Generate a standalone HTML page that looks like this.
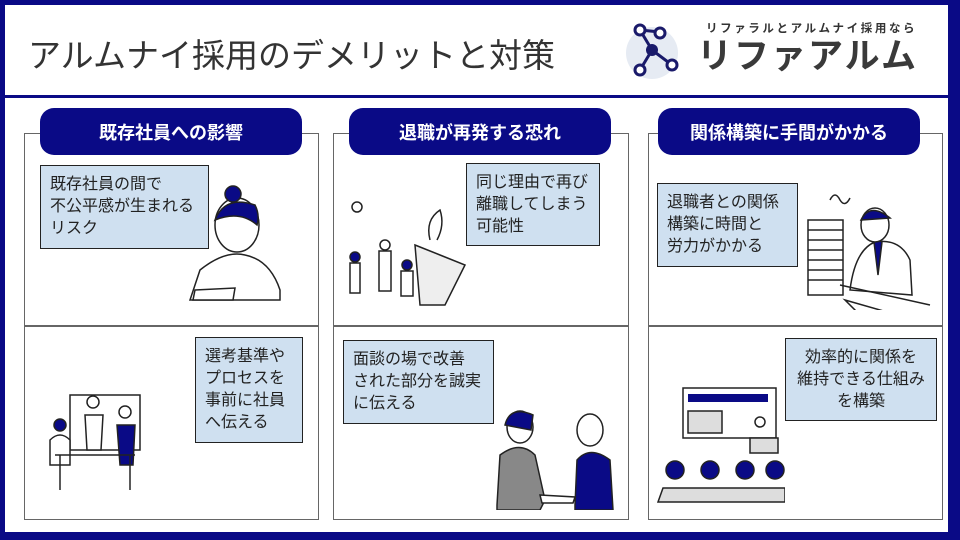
<!DOCTYPE html>
<html><head><meta charset="utf-8"><style>
*{margin:0;padding:0;box-sizing:border-box}
body{width:960px;height:540px;overflow:hidden;background:#fff;font-family:"Liberation Sans","Noto Sans CJK JP",sans-serif;position:relative}
.frame{position:absolute;left:0;top:0;width:960px;height:540px;border-style:solid;border-color:#0a0a86;border-width:5px 12px 8px 5px}
.hl{position:absolute;left:5px;right:12px;top:95px;height:3px;background:#0a0a86}
.title{position:absolute;left:28px;top:29px;font-size:33px;color:#333;white-space:nowrap}
.panel{position:absolute;top:133px;height:387px;border:1.5px solid #666}
.div{position:absolute;height:1.5px;background:#666;top:325px}
.pill{position:absolute;top:108px;height:47px;width:262px;background:#0a0a86;border-radius:14px;color:#fff;font-weight:bold;font-size:18px;display:flex;align-items:center;justify-content:center}
.box{position:absolute;background:#cfe0f0;border:1.5px solid #222;font-size:16px;line-height:22px;color:#222;padding:8px 9px}
.c{text-align:center}
svg{position:absolute}
</style></head><body>
<div class="frame"></div>
<div class="hl"></div>
<div class="title">アルムナイ採用のデメリットと対策</div>
<svg style="left:620px;top:20px" width="80" height="65">
<circle cx="32" cy="33" r="26" fill="#e6ebf3"/>
<g stroke="#1a1a6a" stroke-width="3" fill="#fff">
<line x1="20" y1="10" x2="32" y2="30"/><line x1="32" y1="30" x2="20" y2="50"/><line x1="32" y1="30" x2="52" y2="45"/><line x1="20" y1="10" x2="40" y2="12"/>
<circle cx="20" cy="10" r="5"/><circle cx="40" cy="13" r="5"/><circle cx="20" cy="50" r="5"/><circle cx="52" cy="45" r="5"/>
</g><circle cx="32" cy="30" r="6" fill="#1a1a6a"/></svg>
<div style="position:absolute;left:706px;top:20px;font-size:11.5px;color:#333;letter-spacing:2.6px;font-weight:bold;white-space:nowrap">リファラルとアルムナイ採用なら</div>
<div style="position:absolute;left:697px;top:36px;font-size:35px;line-height:42px;color:#3a3a3a;letter-spacing:2px;font-weight:bold;white-space:nowrap">リファアルム</div>

<div class="panel" style="left:24px;width:295px"></div>
<div class="panel" style="left:333px;width:296px"></div>
<div class="panel" style="left:648px;width:295px"></div>
<div class="div" style="left:24px;width:295px"></div>
<div class="div" style="left:333px;width:296px"></div>
<div class="div" style="left:648px;width:295px"></div>
<div class="pill" style="left:40px">既存社員への影響</div>
<div class="pill" style="left:349px">退職が再発する恐れ</div>
<div class="pill" style="left:658px">関係構築に手間がかかる</div>

<svg style="left:185px;top:180px" width="110" height="125"><g stroke="#222" stroke-width="1.5" fill="#fff">
<path d="M5 120 L15 90 Q40 70 60 75 Q85 80 95 110 L95 120Z"/><ellipse cx="52" cy="45" rx="22" ry="27"/>
<path d="M30 40 Q40 15 70 25 Q75 35 72 45 Q55 30 30 40Z" fill="#0a0a86"/><circle cx="48" cy="14" r="8" fill="#0a0a86"/>
<path d="M10 110 L50 108 L48 120 L8 120Z"/></g></svg>
<svg style="left:345px;top:195px" width="130" height="120"><g stroke="#222" stroke-width="1.5" fill="#fff">
<path d="M70 50 L95 60 L120 70 L100 110 L75 110Z" fill="#eee"/><path d="M85 45 Q80 25 95 15 Q100 30 92 45" fill="none"/>
<circle cx="10" cy="62" r="5" fill="#0a0a86"/><rect x="5" y="68" width="10" height="30"/>
<circle cx="40" cy="50" r="5"/><rect x="34" y="56" width="12" height="40"/>
<circle cx="62" cy="70" r="5" fill="#0a0a86"/><rect x="56" y="76" width="12" height="25"/>
<circle cx="12" cy="12" r="5"/></g></svg>
<svg style="left:800px;top:180px" width="135" height="130"><g stroke="#222" stroke-width="1.5" fill="#fff">
<rect x="8" y="40" width="35" height="75"/><line x1="8" y1="50" x2="43" y2="50"/><line x1="8" y1="60" x2="43" y2="60"/><line x1="8" y1="70" x2="43" y2="70"/><line x1="8" y1="80" x2="43" y2="80"/><line x1="8" y1="90" x2="43" y2="90"/><line x1="8" y1="100" x2="43" y2="100"/>
<path d="M50 110 Q55 70 75 62 Q100 58 110 80 L112 115Z"/><path d="M74 62 L78 95 L82 62" fill="#0a0a86"/>
<ellipse cx="75" cy="45" rx="14" ry="17"/><path d="M61 40 Q70 22 90 38Z" fill="#0a0a86"/>
<line x1="40" y1="105" x2="130" y2="125"/><path d="M45 120 L80 130 L60 135Z"/><path d="M30 20 Q35 10 40 20 Q45 28 50 18"/></g></svg>
<svg style="left:45px;top:390px" width="100" height="105"><g stroke="#222" stroke-width="1.5" fill="#fff">
<rect x="25" y="5" width="70" height="55"/><circle cx="15" cy="35" r="6" fill="#0a0a86"/><path d="M5 50 Q15 40 25 50 L25 75 L5 75Z"/>
<circle cx="48" cy="12" r="6"/><path d="M40 25 L58 25 L56 60 L42 60Z"/><circle cx="80" cy="22" r="6"/><path d="M72 35 L90 35 L88 75 L75 75Z" fill="#0a0a86"/>
<line x1="10" y1="65" x2="90" y2="65"/><line x1="15" y1="65" x2="15" y2="100"/><line x1="85" y1="65" x2="85" y2="100"/></g></svg>
<svg style="left:495px;top:405px" width="120" height="105"><g stroke="#222" stroke-width="1.5" fill="#fff">
<ellipse cx="25" cy="22" rx="13" ry="16"/><path d="M10 20 Q15 0 38 10 L36 25Z" fill="#0a0a86"/><path d="M2 100 L5 50 Q25 35 40 50 L50 95 L45 105 L2 105Z" fill="#888"/>
<ellipse cx="95" cy="25" rx="13" ry="16"/><path d="M80 100 L82 55 Q95 40 115 55 L118 105 L80 105Z" fill="#0a0a86"/>
<path d="M45 90 L80 92 L78 98 L47 98Z"/></g></svg>
<svg style="left:655px;top:380px" width="130" height="125"><g stroke="#222" stroke-width="1.5" fill="#fff">
<rect x="28" y="8" width="93" height="50"/><rect x="33" y="14" width="80" height="8" fill="#0a0a86" stroke="none"/><rect x="33" y="31" width="34" height="22" fill="#ddd"/>
<circle cx="105" cy="42" r="5"/><rect x="95" y="58" width="28" height="15" fill="#ddd"/>
<circle cx="20" cy="90" r="9" fill="#0a0a86"/><circle cx="55" cy="90" r="9" fill="#0a0a86"/><circle cx="90" cy="90" r="9" fill="#0a0a86"/><circle cx="120" cy="90" r="9" fill="#0a0a86"/>
<path d="M3 122 L8 108 L130 108 L130 122Z" fill="#ddd"/></g></svg>

<div class="box" style="left:40px;top:165px;width:169px;height:84px">既存社員の間で<br>不公平感が生まれる<br>リスク</div>
<div class="box" style="left:195px;top:337px;width:108px;height:106px">選考基準や<br>プロセスを<br>事前に社員<br>へ伝える</div>
<div class="box" style="left:466px;top:163px;width:134px;height:83px">同じ理由で再び<br>離職してしまう<br>可能性</div>
<div class="box" style="left:343px;top:340px;width:151px;height:84px">面談の場で改善<br>された部分を誠実<br>に伝える</div>
<div class="box" style="left:657px;top:183px;width:141px;height:84px">退職者との関係<br>構築に時間と<br>労力がかかる</div>
<div class="box c" style="left:785px;top:338px;width:152px;height:83px">効率的に関係を<br>維持できる仕組み<br>を構築</div>
</body></html>
